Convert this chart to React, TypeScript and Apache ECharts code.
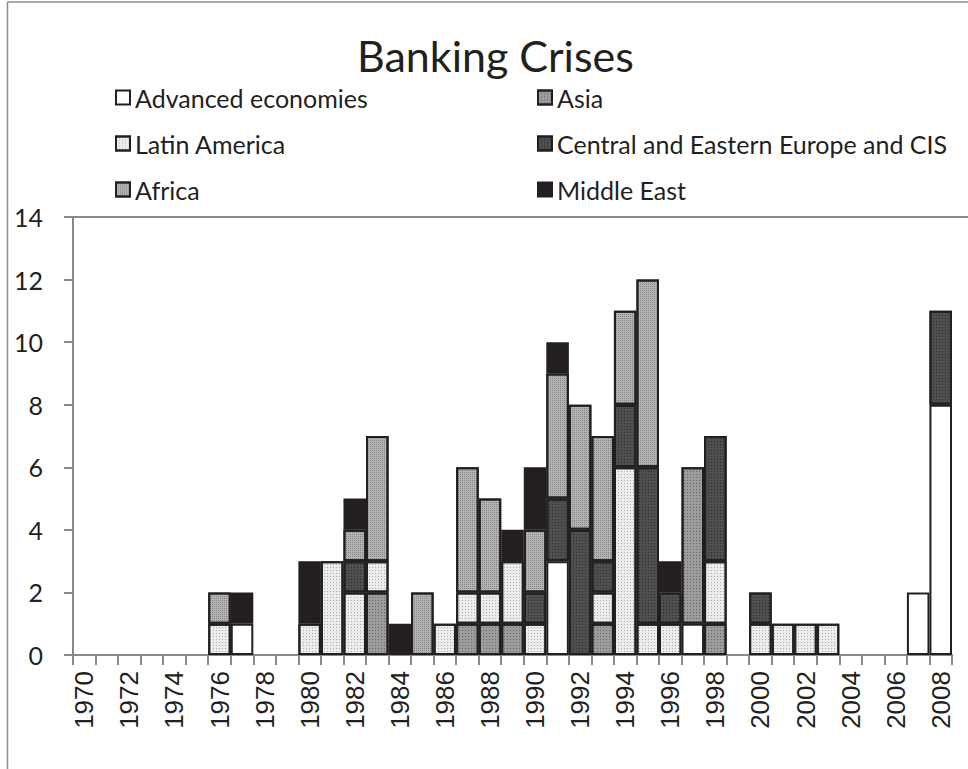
import React, { useEffect, useRef } from "react";
import * as echarts from "echarts";

const years: string[] = [];
for (let y = 1970; y <= 2008; y++) years.push(String(y));

const seriesNames = [
  "Advanced economies",
  "Asia",
  "Latin America",
  "Central and Eastern Europe and CIS",
  "Africa",
  "Middle East",
];

// 1970 ... 2008 (39 values each)
const advanced = [0,0,0,0,0,0,0,1,0,0, 0,0,0,0,0,0,0,0,0,0, 0,3,0,0,0,0,0,1,0,0, 0,0,0,0,0,0,0,2,8];
const asia     = [0,0,0,0,0,0,0,0,0,0, 0,0,0,2,0,0,0,1,1,1, 0,0,0,1,0,0,0,5,1,0, 0,0,0,0,0,0,0,0,0];
const latin    = [0,0,0,0,0,0,1,0,0,0, 1,3,2,1,0,0,1,1,1,2, 1,0,0,1,6,1,1,0,2,0, 1,1,1,1,0,0,0,0,0];
const cee      = [0,0,0,0,0,0,0,0,0,0, 0,0,1,0,0,0,0,0,0,0, 1,2,4,1,2,5,1,0,4,0, 1,0,0,0,0,0,0,0,3];
const africa   = [0,0,0,0,0,0,1,0,0,0, 0,0,1,4,0,2,0,4,3,0, 2,4,4,4,3,6,0,0,0,0, 0,0,0,0,0,0,0,0,0];
const middleEast = [0,0,0,0,0,0,0,1,0,0, 2,0,1,0,1,0,0,0,0,1, 2,1,0,0,0,0,1,0,0,0, 0,0,0,0,0,0,0,0,0];

const yTicks = [0, 2, 4, 6, 8, 10, 12, 14];

const seriesData = [advanced, asia, latin, cee, africa, middleEast];
const fills = ["#ffffff", "#9c9c9c", "#ececec", "#4f4f4f", "#b4b4b4", "#231f20"];
const decals: any[] = [
  null,
  { symbol: "rect", symbolSize: 1, color: "rgba(60,60,60,0.55)", dashArrayX: [1, 2], dashArrayY: [1, 2] },
  { symbol: "rect", symbolSize: 1, color: "rgba(130,130,130,0.6)", dashArrayX: [1, 2], dashArrayY: [1, 2] },
  { symbol: "rect", symbolSize: 1, color: "rgba(20,20,20,0.6)", dashArrayX: [1, 2], dashArrayY: [1, 2] },
  { symbol: "rect", symbolSize: 1, color: "rgba(90,90,90,0.55)", dashArrayX: [1, 1], dashArrayY: [1, 1] },
  null,
];

export default function App() {
  const ref = useRef<HTMLDivElement>(null);
  useEffect(() => {
    if (!ref.current) return;
    const chart = echarts.init(ref.current, undefined, { renderer: "svg" });
    const gridLeft = 73, gridTop = 217, gridRight = 16, gridBottom = 114;
    const font = "Lato";
    const legendText = { fontFamily: font, fontSize: 25, lineHeight: 25, color: "#231f20" };
    const legendCommon = {
      orient: "vertical",
      top: 85,
      padding: 0,
      icon: "rect",
      itemWidth: 14,
      itemHeight: 14,
      itemGap: 21,
      textStyle: legendText,
    };
    const option: any = {
      animation: false,
      backgroundColor: "#ffffff",
      title: {
        text: "Banking Crises",
        left: 352,
        top: 29,
        textStyle: { fontFamily: font, fontSize: 43, fontWeight: "normal", color: "#231f20" },
      },
      legend: [
        { ...legendCommon, data: [seriesNames[0], seriesNames[2], seriesNames[4]], left: 115 },
        { ...legendCommon, data: [seriesNames[1], seriesNames[3], seriesNames[5]], left: 537 },
      ],
      grid: { left: gridLeft, top: gridTop, right: gridRight, bottom: gridBottom, containLabel: false },
      xAxis: {
        type: "category",
        data: years,
        boundaryGap: true,
        axisLine: { lineStyle: { color: "#898989", width: 2 } },
        axisTick: { show: true, interval: 0, length: 10, lineStyle: { color: "#898989", width: 2 } },
        axisLabel: {
          interval: 1,
          rotate: 90,
          margin: 16,
          fontFamily: "Liberation Sans",
          fontSize: 26,
          color: "#231f20",
        },
        splitLine: { show: false },
      },
      yAxis: {
        type: "value",
        min: yTicks[0],
        max: yTicks[yTicks.length - 1],
        interval: 2,
        axisLine: { show: true, lineStyle: { color: "#898989", width: 2 } },
        axisTick: { show: true, length: 9, lineStyle: { color: "#898989", width: 2 } },
        axisLabel: { margin: 30, fontFamily: font, fontSize: 25, color: "#231f20" },
        splitLine: { show: false },
      },
      graphic: [
        { type: "line", shape: { x1: gridLeft, y1: gridTop, x2: 968, y2: gridTop }, style: { stroke: "#898989", lineWidth: 2 } },
        { type: "line", shape: { x1: 7.5, y1: 2, x2: 7.5, y2: 769 }, style: { stroke: "#8c8c8c", lineWidth: 1.5 } },
        { type: "line", shape: { x1: 7.5, y1: 2, x2: 968, y2: 2 }, style: { stroke: "#8c8c8c", lineWidth: 1.5 } },
      ],
      series: seriesNames.map((name, i) => ({
        name,
        type: "bar",
        stack: "total",
        barCategoryGap: "0%",
        barGap: "0%",
        data: seriesData[i].map((v) => (v === 0 ? null : v)),
        itemStyle: decals[i]
          ? { color: fills[i], borderColor: "#231f20", borderWidth: 2, decal: decals[i] }
          : { color: fills[i], borderColor: "#231f20", borderWidth: 2 },
        emphasis: { disabled: true },
      })),
    };
    chart.setOption(option);
    return () => chart.dispose();
  }, []);
  return <div ref={ref} style={{ position: "fixed", left: 0, top: 0, width: 968, height: 769 }} />;
}
